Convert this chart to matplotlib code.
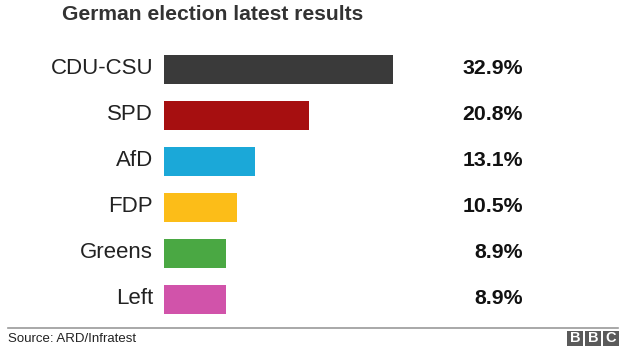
import matplotlib.pyplot as plt
import matplotlib.patches as patches
import matplotlib.transforms as mtransforms

# %% data
parties = ["CDU-CSU", "SPD", "AfD", "FDP", "Greens", "Left"]
shares = [32.9, 20.8, 13.1, 10.5, 8.9, 8.9]
partyColours = ["#3a3a3a", "#a60f10", "#1ba8d8", "#fcbd18", "#4aa843", "#d153aa"]

title = "German election latest results"
source = "Source: ARD/Infratest"

# %% layout (pixels)
W, H = 624, 351
barLeft, barRight = 164, 393
firstRow, rowStep = 69, 46

plt.rcParams["font.family"] = ["Liberation Sans", "DejaVu Sans"]
fig = plt.figure(figsize=(W / 100, H / 100), dpi=100)
ax = fig.add_axes([barLeft / W, 0, (barRight - barLeft) / W, 1])
ax.set_xlim(0, max(shares))
ax.set_ylim((H - firstRow) / rowStep, -firstRow / rowStep)
ax.axis("off")

ypos = list(range(len(parties)))
ax.barh(ypos, shares, height=29 / rowStep, color=partyColours, clip_on=False)

# party names and values
nameTrans = mtransforms.blended_transform_factory(fig.transFigure, ax.transData)
for y, name, val in zip(ypos, parties, shares):
    ax.text(153 / W, y, name, transform=nameTrans, ha="right", va="center",
            fontsize=16, color="#222222")
    ax.text(523 / W, y, "{:.1f}%".format(val), transform=nameTrans, ha="right",
            va="center", fontsize=15.3, fontweight="bold", color="#111111")

# title
fig.text(62 / W, 1 - 15 / H, title, ha="left", va="center", fontsize=15.2,
         fontweight="bold", color="#333333")

# footer rule and source
fig.add_artist(plt.Line2D([8 / W, 618 / W], [1 - 328 / H, 1 - 328 / H],
                          color="#9a9a9a", linewidth=1.2))
fig.text(8 / W, 1 - 339 / H, source, ha="left", va="center", fontsize=9.5,
         color="#222222")

# BBC blocks
for i, letter in enumerate("BBC"):
    x0 = 567 + i * 18
    fig.add_artist(patches.Rectangle((x0 / W, 1 - 346 / H), 16 / W, 15 / H,
                                     transform=fig.transFigure,
                                     facecolor="#5a5a5a", edgecolor="none"))
    fig.text((x0 + 8) / W, 1 - 338.5 / H, letter, ha="center", va="center",
             fontsize=10.5, fontweight="bold", color="white")

fig.savefig("out.png", dpi=100)
